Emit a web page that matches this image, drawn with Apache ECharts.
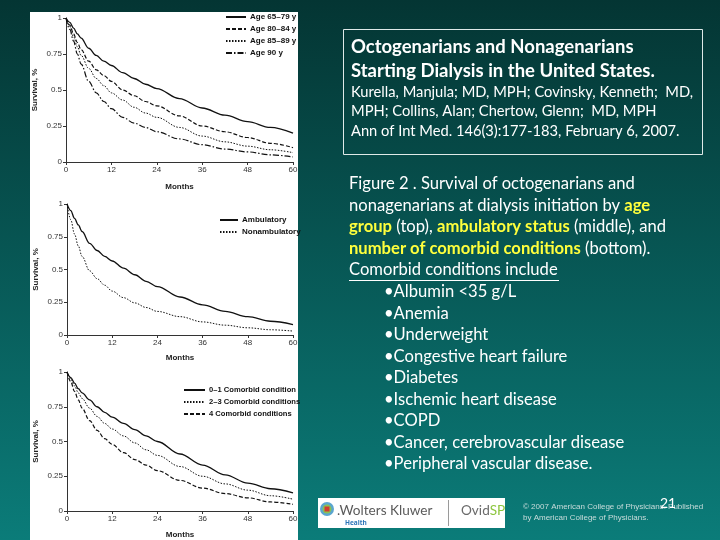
<!DOCTYPE html>
<html>
<head>
<meta charset="utf-8">
<script src="https://cdn.jsdelivr.net/npm/echarts@6/dist/echarts.min.js"></script>
<style>
html,body{margin:0;padding:0;background:#075552;}
#c{width:720px;height:540px;}
</style>
</head>
<body>
<div id="c"></div>
<script>
// ---- data ----
const months = [0,1,2,3,4,6,8,10,12,15,18,21,24,30,36,42,48,54,60];
const xTicks = [0,12,24,36,48,60];

const age6579 = [1,0.97,0.93,0.89,0.86,0.79,0.74,0.70,0.67,0.62,0.58,0.54,0.51,0.44,0.375,0.325,0.28,0.24,0.20];
const age8084 = [1,0.95,0.89,0.83,0.78,0.70,0.64,0.60,0.56,0.50,0.46,0.42,0.39,0.32,0.25,0.21,0.17,0.13,0.10];
const age8589 = [1,0.94,0.87,0.80,0.74,0.65,0.58,0.53,0.48,0.43,0.38,0.34,0.31,0.24,0.18,0.14,0.11,0.085,0.065];
const age90   = [1,0.92,0.84,0.75,0.68,0.56,0.48,0.42,0.37,0.31,0.27,0.24,0.21,0.16,0.12,0.09,0.07,0.05,0.035];

const ambulatory    = [1,0.95,0.89,0.84,0.79,0.70,0.645,0.60,0.565,0.51,0.46,0.41,0.37,0.29,0.23,0.18,0.14,0.105,0.08];
const nonambulatory = [1,0.88,0.77,0.68,0.60,0.49,0.43,0.38,0.335,0.285,0.245,0.21,0.18,0.14,0.10,0.075,0.055,0.04,0.03];

const comorb01 = [1,0.96,0.92,0.88,0.85,0.80,0.75,0.71,0.675,0.63,0.585,0.54,0.50,0.41,0.33,0.26,0.20,0.16,0.13];
const comorb23 = [1,0.95,0.90,0.85,0.81,0.74,0.68,0.63,0.59,0.54,0.49,0.44,0.40,0.32,0.25,0.195,0.15,0.11,0.085];
const comorb4  = [1,0.93,0.86,0.80,0.74,0.65,0.58,0.52,0.48,0.42,0.37,0.33,0.29,0.22,0.165,0.125,0.095,0.065,0.048];

const groupTop = ['Age 65–79 y','Age 80–84 y','Age 85–89 y','Age 90 y'];
const groupMid = ['Ambulatory','Nonambulatory'];
const groupBot = ['0–1 Comorbid condition','2–3 Comorbid conditions','4 Comorbid conditions'];

const titleLines = ['Octogenarians and Nonagenarians','Starting Dialysis in the United States.'];
const authorLines = ['Kurella, Manjula; MD, MPH; Covinsky, Kenneth;  MD,','MPH; Collins, Alan; Chertow, Glenn;  MD, MPH','Ann of Int Med. 146(3):177-183, February 6, 2007.'];
const captionText = 'Figure 2 . Survival of octogenarians and\nnonagenarians at dialysis initiation by {y|age}\n{y|group} (top), {y|ambulatory status} (middle), and\n{y|number of comorbid conditions} (bottom).\nComorbid conditions include';
const bullets = ['Albumin <35 g/L','Anemia','Underweight','Congestive heart failure','Diabetes','Ischemic heart disease','COPD','Cancer, cerebrovascular disease','Peripheral vascular disease.'];

// ---- styles ----
const styles = {
  solid:   {type:'solid', width:1.3},
  dash:    {type:[4,2], width:1.2},
  dot:     {type:[1.5,1.5], width:1},
  dashdot: {type:[6,2,1.5,2], width:1.2}
};

function mk(name, vals, st, idx){
  return {
    name, type:'line', xAxisIndex:idx, yAxisIndex:idx,
    data: months.map((m,i)=>[m, vals[i]]),
    symbol:'none', smooth:0.35, smoothMonotone:'x',
    lineStyle: Object.assign({color:'#111'}, st),
    itemStyle:{color:'#111'},
    animation:false
  };
}

const axisFont = {fontFamily:'Liberation Sans', fontSize:8, color:'#333'};
function xa(i, gap){
  return {
    type:'value', gridIndex:i, min:0, max:60, interval:12,
    name:'Months', nameLocation:'middle', nameGap:gap,
    nameTextStyle:{fontFamily:'Liberation Sans', fontSize:8, fontWeight:'bold', color:'#222'},
    axisLine:{lineStyle:{color:'#333', width:1}},
    axisTick:{length:3, lineStyle:{color:'#333'}},
    axisLabel:Object.assign({margin:4}, axisFont),
    splitLine:{show:false}
  };
}
function ya(i){
  return {
    type:'value', gridIndex:i, min:0, max:1, interval:0.25,
    name:'Survival, %', nameLocation:'middle', nameGap:27,
    nameTextStyle:{fontFamily:'Liberation Sans', fontSize:8, fontWeight:'bold', color:'#222'},
    axisLine:{show:true, lineStyle:{color:'#333', width:1}},
    axisTick:{show:true, length:3, lineStyle:{color:'#333'}},
    axisLabel:Object.assign({margin:4}, axisFont),
    splitLine:{show:false}
  };
}
function lg(data, left, top, w, fs){
  return {
    data, left, top, orient:'vertical', itemWidth:w, itemHeight:8, itemGap:4,
    padding:0, selectedMode:false,
    itemStyle:{opacity:0, borderWidth:0},
    textStyle:{fontFamily:'Liberation Sans', fontSize:fs, fontWeight:'bold', color:'#111', padding:[0,0,0,-1]}
  };
}

const captionFont = {fontFamily:'Lato', fontSize:16.6, fill:'#ffffff'};
const graphics = [
  {type:'rect', z:-100, shape:{x:0,y:0,width:720,height:540}, silent:true,
   style:{fill:{type:'linear',x:0,y:0,x2:0,y2:1,colorStops:[{offset:0,color:'#043533'},{offset:1,color:'#0b7c79'}]}}},
  {type:'rect', z:-90, shape:{x:30,y:12,width:268,height:528}, style:{fill:'#ffffff'}},
  // title box
  {type:'rect', shape:{x:343.5,y:29.5,width:359,height:125}, style:{fill:'none', stroke:'#dfe9e8', lineWidth:1}},
  {type:'text', style:{x:351, y:47, text:titleLines[0], fontFamily:'Lato', fontSize:18.5, fontWeight:'bold', fill:'#fff', textVerticalAlign:'middle'}},
  {type:'text', style:{x:351, y:71, text:titleLines[1], fontFamily:'Lato', fontSize:18.5, fontWeight:'bold', fill:'#fff', textVerticalAlign:'middle'}},
  {type:'text', style:{x:351, y:92, text:authorLines[0], fontFamily:'Lato', fontSize:14.7, fill:'#fff', textVerticalAlign:'middle'}},
  {type:'text', style:{x:351, y:111.5, text:authorLines[1], fontFamily:'Lato', fontSize:14.7, fill:'#fff', textVerticalAlign:'middle'}},
  {type:'text', style:{x:351, y:131, text:authorLines[2], fontFamily:'Lato', fontSize:14.7, fill:'#fff', textVerticalAlign:'middle'}},
  // caption
  {type:'text', style:Object.assign({x:349, y:173, text:captionText, lineHeight:21.5, textVerticalAlign:'top',
     rich:{y:{fontFamily:'Lato', fontSize:16.6, fontWeight:'bold', fill:'#ffff3c', lineHeight:21.5}}}, captionFont)},
  {type:'line', shape:{x1:349,y1:280.5,x2:559,y2:280.5}, style:{stroke:'#fff', lineWidth:1}},
  {type:'text', style:Object.assign({x:384, y:281.25, text:bullets.map(b=>'•'+b).join('\n'), lineHeight:21.5, textVerticalAlign:'top'}, captionFont)},
  // logo box
  {type:'rect', shape:{x:318,y:498,width:187,height:30}, style:{fill:'#ffffff'}},
  {type:'circle', shape:{cx:327,cy:509,r:7}, style:{fill:'#5aa6cf'}},
  {type:'circle', shape:{cx:327,cy:509,r:4.5}, style:{fill:'#8cc152'}},
  {type:'rect', shape:{x:324.5,y:506.5,width:5,height:5}, style:{fill:'#d23a2f'}},
  {type:'text', style:{x:337, y:511, text:'.Wolters Kluwer', fontFamily:'Lato', fontSize:13.6, fill:'#5a5a5a', textVerticalAlign:'middle'}},
  {type:'text', style:{x:345, y:523, text:'Health', fontFamily:'Open Sans', fontSize:6.5, fontWeight:'bold', fill:'#2a74b8', textVerticalAlign:'middle'}},
  {type:'line', shape:{x1:448.5,y1:500,x2:448.5,y2:526}, style:{stroke:'#9a9a9a', lineWidth:1}},
  {type:'text', style:{x:461, y:511, text:'Ovid{g|SP}', fontFamily:'Lato', fontSize:13.6, fill:'#6a6a6a', textVerticalAlign:'middle',
     rich:{g:{fontFamily:'Lato', fontSize:13.6, fill:'#8dc63f'}}}},
  // copyright
  {type:'text', style:{x:523, y:507, text:'© 2007 American College of Physicians. Published', fontFamily:'Liberation Sans', fontSize:8, fill:'#c9dcdb', textVerticalAlign:'middle'}},
  {type:'text', style:{x:523, y:518, text:'by American College of Physicians.', fontFamily:'Liberation Sans', fontSize:8, fill:'#c9dcdb', textVerticalAlign:'middle'}},
  {type:'text', style:{x:660, y:503, text:'21', fontFamily:'Lato', fontSize:14, fill:'#ffffff', textVerticalAlign:'middle'}}
];

const chart = echarts.init(document.getElementById('c'), null, {renderer:'canvas'});
chart.setOption({
  animation:false,
  backgroundColor:'transparent',
  graphic: graphics,
  grid:[
    {left:66, top:18, width:227, height:144},
    {left:67, top:204, width:226, height:131},
    {left:67, top:372, width:226, height:141}
  ],
  xAxis:[xa(0,21), xa(1,19), xa(2,20)],
  yAxis:[ya(0), ya(1), ya(2)],
  legend:[lg(groupTop,225,13,20,8), lg(groupMid,219,216,18,8), lg(groupBot,183,386,21,7.6)],
  series:[
    mk(groupTop[0], age6579, styles.solid, 0),
    mk(groupTop[1], age8084, styles.dash, 0),
    mk(groupTop[2], age8589, styles.dot, 0),
    mk(groupTop[3], age90, styles.dashdot, 0),
    mk(groupMid[0], ambulatory, styles.solid, 1),
    mk(groupMid[1], nonambulatory, styles.dot, 1),
    mk(groupBot[0], comorb01, styles.solid, 2),
    mk(groupBot[1], comorb23, styles.dot, 2),
    mk(groupBot[2], comorb4, styles.dash, 2)
  ]
});
</script>
</body>
</html>
